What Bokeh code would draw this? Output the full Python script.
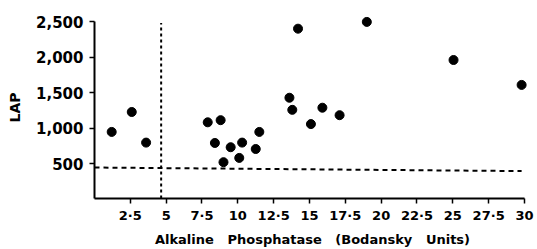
from bokeh.plotting import figure
from bokeh.models import Range1d, FixedTicker
from bokeh.embed import file_html
from bokeh.resources import INLINE

# Data
alk_phos = [1.2, 2.6, 3.6, 7.9, 8.8, 8.4, 9.5, 10.3, 9.0, 10.1, 11.25, 11.5,
            13.6, 13.8, 14.2, 15.1, 15.9, 17.1, 19.0, 25.05, 29.8]
lap = [950, 1230, 800, 1085, 1115, 795, 735, 800, 525, 585, 710, 950,
       1430, 1260, 2400, 1060, 1290, 1185, 2495, 1960, 1610]

x_ticks = [2.5, 5, 7.5, 10, 12.5, 15, 17.5, 20, 22.5, 25, 27.5, 30]
x_tick_labels = ["2·5", "5", "7·5", "10", "12·5", "15", "17·5", "20", "22·5", "25", "27·5", "30"]
y_ticks = [500, 1000, 1500, 2000, 2500]
y_tick_labels = ["500", "1,000", "1,500", "2,000", "2,500"]

# reference (cut-off) lines
vline_x = [4.65]
vline_y0 = [15]
vline_y1 = [2480]
hline_x0 = [0]
hline_x1 = [29.8]
hline_y0 = [450]
hline_y1 = [400]

FONT = "DejaVu Sans"
SP = "\u00a0\u00a0\u00a0"

p = figure(width=537, height=249, output_backend="svg", toolbar_location=None,
           x_range=Range1d(0, 30.42), y_range=Range1d(15, 2571),
           min_border_left=94, min_border_right=7, min_border_top=16, min_border_bottom=49)
p.outline_line_color = None
p.xgrid.visible = False
p.ygrid.visible = False
p.background_fill_color = "white"

# cut-off lines
p.segment(x0=vline_x, y0=vline_y0, x1=vline_x, y1=vline_y1,
          line_color="black", line_width=2, line_dash="3 3")
p.segment(x0=hline_x0, y0=hline_y0, x1=hline_x1, y1=hline_y1,
          line_color="black", line_width=2, line_dash="5 4")

p.scatter(alk_phos, lap, size=9, color="black")

for ax in (p.xaxis[0], p.yaxis[0]):
    ax.axis_line_width = 2
    ax.axis_line_color = "black"
    ax.major_tick_line_width = 1.5
    ax.major_tick_line_color = "black"
    ax.major_tick_in = 0
    ax.major_tick_out = 5
    ax.minor_tick_line_color = None
    ax.major_label_text_font = FONT
    ax.major_label_text_font_style = "bold"
    ax.major_label_text_color = "black"
    ax.axis_label_text_font = FONT
    ax.axis_label_text_font_style = "bold"
    ax.axis_label_text_color = "black"

p.xaxis.bounds = (0, 30)
p.yaxis.bounds = (15, 2500)

p.xaxis.ticker = FixedTicker(ticks=x_ticks)
p.xaxis.major_label_overrides = {t: l for t, l in zip(x_ticks, x_tick_labels)}
p.xaxis.major_label_text_font_size = "13px"
p.xaxis.major_label_standoff = 4
p.xaxis.axis_label = "Alkaline" + SP + "Phosphatase" + SP + "(Bodansky" + SP + "Units)"
p.xaxis.axis_label_text_font_size = "13px"
p.xaxis.axis_label_standoff = 6

p.yaxis.ticker = FixedTicker(ticks=y_ticks)
p.yaxis.major_label_overrides = {t: l for t, l in zip(y_ticks, y_tick_labels)}
p.yaxis.major_label_text_font_size = "15px"
p.yaxis.major_label_standoff = 6
p.yaxis.axis_label = "LAP"
p.yaxis.axis_label_text_font_size = "14px"
p.yaxis.axis_label_standoff = 10

open("out.html", "w").write(file_html(p, INLINE))
